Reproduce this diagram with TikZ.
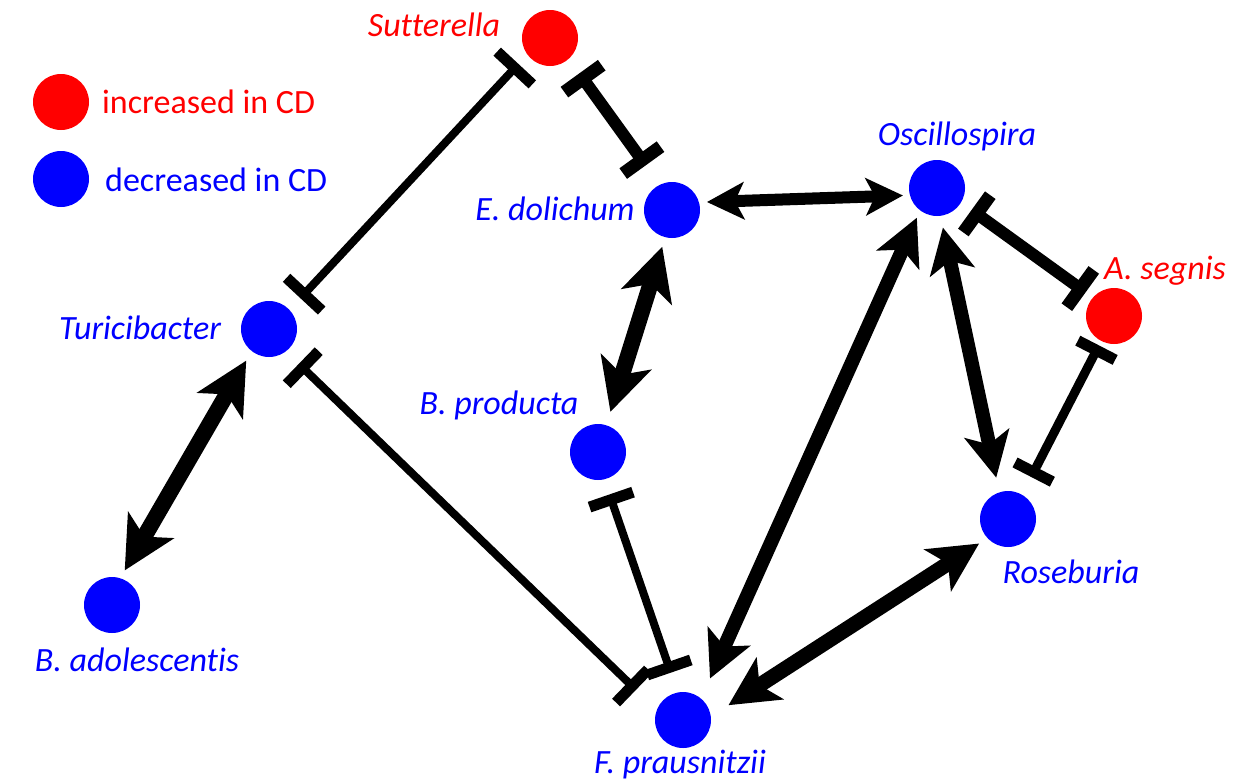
\documentclass[tikz,border=0pt]{standalone}
\usepackage{fontspec}
\setmainfont{Carlito}[Ligatures=NoCommon]
\usetikzlibrary{arrows.meta}
\definecolor{cdred}{RGB}{255,0,0}
\definecolor{cdblue}{RGB}{0,0,255}
\begin{document}
\begin{tikzpicture}[x=1pt,y=-1pt,
  cnode/.style={circle,inner sep=0pt,outer sep=0pt,minimum size=56pt},
  lab/.style={font=\fontsize{34}{36}\selectfont\itshape,anchor=base,inner sep=0pt},
  leg/.style={font=\fontsize{34}{36}\selectfont,anchor=base west,inner sep=0pt},
  dbl/.style args={#1/#2/#3}{line width=#1pt, arrows={Stealth[length=#2pt,width=#2pt,inset=#3pt]-Stealth[length=#2pt,width=#2pt,inset=#3pt]}},
  inh/.style args={#1/#2/#3}{line width=#1pt, arrows={Rectangle[length=#2pt,width=#3pt]-Rectangle[length=#2pt,width=#3pt]}},
]
\useasboundingbox (0,0) rectangle (1247,782);
% legend
\node[cnode,fill=cdred] (legr) at (61,102) {};
\node[cnode,fill=cdblue] (legb) at (61,179) {};
\node[leg,text=cdred] (legrt) at (102,113) {increased in CD};
\node[leg,text=cdblue] (legbt) at (105,191) {decreased in CD};
% nodes
\node[cnode,fill=cdred] (sut) at (550,38) {};
\node[cnode,fill=cdblue] (edol) at (672,210) {};
\node[cnode,fill=cdblue] (osc) at (937,188) {};
\node[cnode,fill=cdblue] (turi) at (269,329) {};
\node[cnode,fill=cdred] (aseg) at (1114,316) {};
\node[cnode,fill=cdblue] (bprod) at (598,452) {};
\node[cnode,fill=cdblue] (ros) at (1008,519) {};
\node[cnode,fill=cdblue] (bado) at (112,605) {};
\node[cnode,fill=cdblue] (fpr) at (683,720) {};
% labels
\node[lab,text=cdred] (sutl) at (434,36) {Sutterella};
\node[lab,text=cdblue] (edoll) at (555,220) {E. dolichum};
\node[lab,text=cdblue] (oscl) at (957,145) {Oscillospira};
\node[lab,text=cdblue] (turil) at (140,339) {Turicibacter};
\node[lab,text=cdred] (asegl) at (1165,279) {A. segnis};
\node[lab,text=cdblue] (bprodl) at (499,414) {B. producta};
\node[lab,text=cdblue] (rosl) at (1071,583) {Roseburia};
\node[lab,text=cdblue] (badol) at (137,671) {B. adolescentis};
\node[lab,text=cdblue] (fprl) at (680,773) {F. prausnitzii};
% edges
\draw[inh=8/11/48, shorten <=13pt, shorten >=16pt] (sut.216) -- (turi.43);
\draw[inh=12/13/46, shorten <=18pt, shorten >=24pt] (sut.-48) -- (edol.116);
\draw[dbl=12/37/9, shorten <=8pt, shorten >=7pt] (edol.16) -- (osc.195);
\draw[dbl=16/52/13, shorten <=10pt, shorten >=14pt] (edol.256) -- (bprod.73);
\draw[inh=12/13/46, shorten <=13pt, shorten >=9pt] (osc.-31) -- (aseg.139);
\draw[dbl=14/45/11, shorten <=12pt, shorten >=15pt] (osc.277) -- (ros.108);
\draw[inh=9/11/42, shorten <=5pt, shorten >=20pt] (aseg.243) -- (ros.60);
\draw[dbl=14/46/11, shorten <=8pt, shorten >=22pt] (osc.233) -- (fpr.50);
\draw[dbl=15/49/12, shorten <=10pt, shorten >=21pt] (ros.223) -- (fpr.7);
\draw[inh=8/11/46, shorten <=16pt, shorten >=21pt] (bprod.-77) -- (fpr.101);
\draw[inh=8/11/46, shorten <=18pt, shorten >=29pt] (turi.-53) -- (fpr.159);
\draw[dbl=16/52/13, shorten <=11pt, shorten >=9pt] (turi.232) -- (bado.73);
\end{tikzpicture}
\end{document}
